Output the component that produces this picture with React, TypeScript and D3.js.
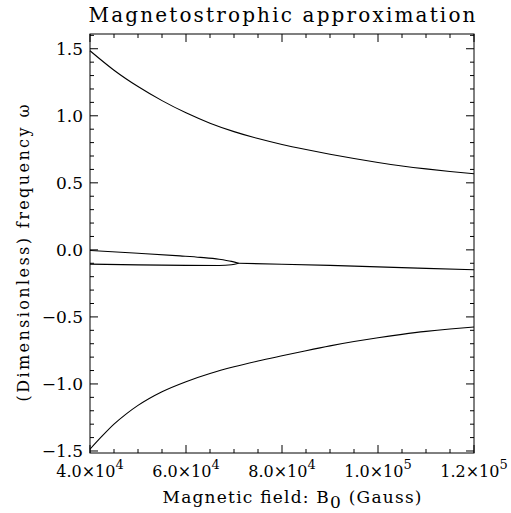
import React from "react";
import * as d3 from "d3";

// Magnetic field B0 (Gauss) and dimensionless frequency
const upperB = [40000, 45000, 50000, 55000, 60000, 65000, 70000, 75000, 80000, 85000, 90000, 95000, 100000, 105000, 110000, 115000, 120000];
const upperW = [1.485, 1.34, 1.218, 1.113, 1.022, 0.945, 0.882, 0.83, 0.786, 0.748, 0.713, 0.681, 0.652, 0.626, 0.604, 0.585, 0.568];

const lowerB = [40000, 42500, 45000, 47500, 50000, 55000, 60000, 65000, 70000, 75000, 80000, 85000, 90000, 95000, 100000, 105000, 110000, 115000, 120000];
const lowerW = [-1.487, -1.39, -1.3, -1.225, -1.16, -1.058, -0.983, -0.922, -0.872, -0.829, -0.79, -0.752, -0.716, -0.684, -0.655, -0.63, -0.608, -0.59, -0.575];

const midAB = [40000, 50000, 58750, 63000, 66900, 69500, 71000];
const midAW = [-0.004, -0.025, -0.045, -0.056, -0.07, -0.086, -0.1];

const midBB = [40000, 50000, 60000, 66900, 69500, 71000];
const midBW = [-0.106, -0.112, -0.116, -0.117, -0.111, -0.1];

const mergedB = [71000, 80000, 90000, 100000, 110000, 120000];
const mergedW = [-0.1, -0.107, -0.116, -0.127, -0.138, -0.148];

const xMajor = [40000, 60000, 80000, 100000, 120000];
const xMajorMant = ["4.0", "6.0", "8.0", "1.0", "1.2"];
const xMajorExp = ["4", "4", "4", "5", "5"];
const yMajor = [-1.5, -1.0, -0.5, 0.0, 0.5, 1.0, 1.5];
const yMajorLabels = ["\u22121.5", "\u22121.0", "\u22120.5", "0.0", "0.5", "1.0", "1.5"];

const FONT = "'DejaVu Serif', 'Liberation Serif', serif";

export default function App() {
  const L = 90, R = 474, T = 34, B = 453;
  const x = d3.scaleLinear().domain([40000, 120000]).range([L, R]);
  const y = d3.scaleLinear().domain([-1.515, 1.61]).range([B, T]);

  const line = d3
    .line<[number, number]>()
    .x((d) => x(d[0]))
    .y((d) => y(d[1]))
    .curve(d3.curveMonotoneX);

  const series = [
    d3.zip(upperB, upperW) as [number, number][],
    d3.zip(lowerB, lowerW) as [number, number][],
    d3.zip(midAB, midAW) as [number, number][],
    d3.zip(midBB, midBW) as [number, number][],
    d3.zip(mergedB, mergedW) as [number, number][],
  ];

  const xMinor = d3.range(40000, 120001, 5000).filter((v) => !xMajor.includes(v));
  const yMinor = d3.range(-15, 17, 1).map((v) => v / 10).filter((v) => Math.abs(v * 2 - Math.round(v * 2)) > 1e-6);

  const majorLen = 8;
  const minorLen = 4;

  return (
    <svg width={511} height={513} style={{ position: "absolute", left: 0, top: 0, background: "#fff" }}>
      <rect x={0} y={0} width={511} height={513} fill="#fff" />
      <rect x={L} y={T} width={R - L} height={B - T} fill="none" stroke="#000" strokeWidth={1} />
      {xMajor.map((v) => (
        <g key={"xm" + v}>
          <line x1={x(v)} x2={x(v)} y1={B} y2={B - majorLen} stroke="#000" />
          <line x1={x(v)} x2={x(v)} y1={T} y2={T + majorLen} stroke="#000" />
        </g>
      ))}
      {xMinor.map((v) => (
        <g key={"xn" + v}>
          <line x1={x(v)} x2={x(v)} y1={B} y2={B - minorLen} stroke="#000" />
          <line x1={x(v)} x2={x(v)} y1={T} y2={T + minorLen} stroke="#000" />
        </g>
      ))}
      {yMajor.map((v) => (
        <g key={"ym" + v}>
          <line x1={L} x2={L + majorLen} y1={y(v)} y2={y(v)} stroke="#000" />
          <line x1={R} x2={R - majorLen} y1={y(v)} y2={y(v)} stroke="#000" />
        </g>
      ))}
      {yMinor.map((v) => (
        <g key={"yn" + v}>
          <line x1={L} x2={L + minorLen} y1={y(v)} y2={y(v)} stroke="#000" />
          <line x1={R} x2={R - minorLen} y1={y(v)} y2={y(v)} stroke="#000" />
        </g>
      ))}
      {series.map((s, i) => (
        <path key={"s" + i} d={line(s) || ""} fill="none" stroke="#000" strokeWidth={1.1} />
      ))}
      {yMajor.map((v, i) => (
        <text key={"yl" + v} x={83} y={y(v) + 6} textAnchor="end" fontFamily={FONT} fontSize={17} fill="#000">
          {yMajorLabels[i]}
        </text>
      ))}
      {xMajor.map((v, i) => (
        <text key={"xl" + v} x={x(v)} y={477} textAnchor="middle" fontFamily={FONT} fontSize={16} fill="#000">
          {xMajorMant[i] + "\u00d710"}
          <tspan dy={-8} fontSize={13}>{xMajorExp[i]}</tspan>
        </text>
      ))}
      <text x={282} y={22} textAnchor="middle" fontFamily={FONT} fontSize={20} textLength={387} lengthAdjust="spacing" fill="#000">
        Magnetostrophic approximation
      </text>
      <text x={292} y={503} textAnchor="middle" fontFamily={FONT} fontSize={17} textLength={259} lengthAdjust="spacing" fill="#000">
        Magnetic field: B<tspan dy={5}>0</tspan>
        <tspan dy={-5}> (Gauss)</tspan>
      </text>
      <text
        transform={`translate(29,253) rotate(-90)`}
        textAnchor="middle"
        fontFamily={FONT}
        fontSize={16}
        textLength={297}
        lengthAdjust="spacing"
        fill="#000"
      >
        (Dimensionless) frequency ω
      </text>
    </svg>
  );
}
